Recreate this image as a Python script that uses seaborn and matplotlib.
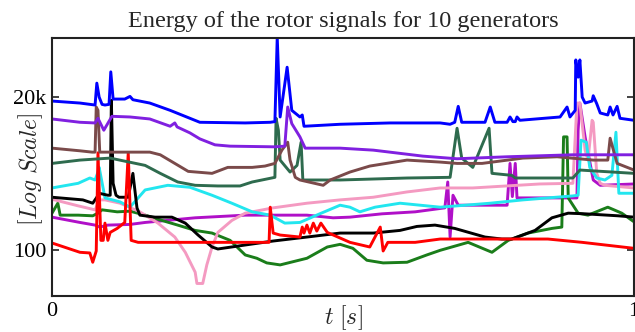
import numpy as np
import pandas as pd
import matplotlib
matplotlib.use('Agg')
import matplotlib.pyplot as plt
from matplotlib.ticker import NullLocator
import seaborn as sns

# readings: time [s] and log10 of the rotor signal energy
blue_t = [0, .048, .074, .077, .081, .086, .091, .098, .101, .105, .125, .134, .139, .168, .203, .237,
          .254, .332, .375, .383, .387, .392, .404, .412, .426, .430, .433, .495, .581, .667, .684, .692,
          .698, .704, .744, .753, .761, .782, .787, .792, .796, .799, .804, .873, .885, .890, .899, .900,
          .904, .907, .911, .916, .928, .930, .936, .942, .955, .959, .964, .971, .976, 1.0]
blue_log = [4.24, 4.21, 4.18, 4.51, 4.30, 4.19, 4.18, 4.19, 4.68, 4.27, 4.27, 4.31, 4.26, 4.21, 4.10, 3.98,
            3.92, 3.91, 3.92, 3.93, 5.20, 4.00, 4.75, 4.10, 4.00, 4.03, 3.86, 3.89, 3.91, 3.91, 3.89, 3.92,
            4.16, 3.92, 3.92, 4.15, 3.92, 3.92, 4.00, 3.93, 3.93, 4.00, 3.95, 4.00, 4.15, 4.00, 4.10, 4.86,
            4.60, 4.86, 4.30, 4.21, 4.24, 4.32, 4.20, 4.06, 4.03, 4.15, 4.03, 4.16, 3.98, 3.95]

violet_t = [0, .048, .074, .079, .089, .103, .134, .168, .203, .211, .215, .237, .254, .280, .306, .383,
            .400, .405, .412, .426, .435, .495, .552, .637, .696, .782, .895, 1.0]
violet_log = [3.97, 3.92, 3.91, 3.98, 3.80, 4.01, 4.00, 3.97, 3.86, 3.91, 3.85, 3.76, 3.67, 3.58, 3.56, 3.55,
              3.56, 4.15, 3.90, 3.70, 3.53, 3.53, 3.50, 3.41, 3.37, 3.40, 3.43, 3.43]

brown_t = [0, .048, .069, .074, .076, .079, .082, .168, .186, .211, .234, .275, .302, .344, .366, .383,
           .395, .405, .409, .418, .426, .466, .478, .512, .546, .610, .667, .696, .739, .809, .868, .930,
           .955, .959, .971, 1.0]
brown_log = [3.53, 3.49, 3.47, 3.47, 4.15, 4.10, 3.47, 3.47, 3.43, 3.30, 3.18, 3.15, 3.24, 3.24, 3.26, 3.30,
             3.50, 3.62, 3.35, 3.09, 3.05, 2.97, 3.05, 3.17, 3.26, 3.35, 3.32, 3.30, 3.30, 3.38, 3.40, 3.35,
             3.35, 3.68, 3.30, 3.20]

teal_t = [0, .048, .082, .100, .160, .186, .216, .246, .285, .323, .344, .383, .385, .389, .392, .409,
          .421, .428, .431, .495, .610, .684, .696, .704, .723, .751, .756, .790, .796, .895, .907, 1.0]
teal_log = [3.30, 3.35, 3.37, 3.38, 3.27, 3.15, 3.02, 2.97, 2.96, 2.96, 3.02, 3.09, 3.98, 3.80, 3.35, 3.17,
            3.27, 3.62, 3.05, 3.05, 3.08, 3.09, 3.83, 3.38, 3.24, 3.83, 3.15, 3.12, 3.08, 3.08, 3.20, 3.15]

red_t = [0, .048, .065, .070, .076, .079, .084, .088, .091, .096, .100, .112, .125, .131, .136, .148,
         .373, .375, .380, .392, .426, .430, .433, .438, .443, .449, .455, .462, .473, .512, .546, .564,
         .569, .577, .624, .667, .739, .852, .911, 1.0]
red_log = [2.10, 1.96, 1.95, 1.81, 1.98, 3.46, 2.14, 2.14, 2.40, 2.14, 2.26, 2.32, 2.41, 3.46, 2.14, 2.11,
           2.11, 2.64, 2.25, 2.22, 2.19, 2.34, 2.25, 2.37, 2.25, 2.40, 2.28, 2.40, 2.26, 2.11, 2.04, 2.34,
           1.98, 2.11, 2.11, 2.16, 2.16, 2.16, 2.11, 2.02]

black_t = [0, .053, .070, .077, .081, .096, .100, .102, .105, .110, .115, .131, .139, .146, .151, .177,
           .206, .229, .251, .275, .285, .332, .380, .438, .495, .552, .598, .627, .658, .692, .744, .773,
           .790, .830, .859, .887, .916, .973, 1.0]
black_log = [2.79, 2.75, 2.70, 2.79, 2.85, 2.82, 2.82, 4.25, 3.00, 2.82, 2.79, 2.79, 3.15, 2.63, 2.52, 2.49,
             2.49, 2.40, 2.22, 2.04, 2.01, 2.07, 2.13, 2.19, 2.25, 2.25, 2.29, 2.35, 2.37, 2.32, 2.19, 2.16,
             2.16, 2.29, 2.48, 2.55, 2.54, 2.51, 2.49]

cyan_t = [0, .045, .065, .074, .079, .081, .091, .117, .134, .148, .160, .199, .237, .275, .309, .344,
          .375, .400, .426, .460, .495, .512, .529, .555, .598, .667, .753, .809, .895, .904, .909, .918,
          .924, .936, .950, .962, .969, .974, 1.0]
cyan_log = [2.93, 3.00, 3.08, 3.05, 3.17, 3.24, 2.78, 2.72, 2.64, 2.78, 2.90, 2.97, 2.94, 2.82, 2.70, 2.57,
            2.52, 2.40, 2.41, 2.54, 2.67, 2.64, 2.57, 2.64, 2.70, 2.64, 2.70, 2.75, 2.81, 2.82, 3.65, 3.62,
            3.24, 3.08, 3.05, 3.12, 3.77, 2.85, 2.85]

pink_t = [0, .045, .074, .082, .091, .117, .151, .182, .211, .229, .246, .249, .259, .266, .275, .285,
          .309, .332, .380, .438, .495, .552, .610, .667, .723, .838, .895, .902, .907, .916, .921, .928,
          .930, .936, .942, .950, 1.0]
pink_log = [2.76, 2.66, 2.60, 2.75, 2.75, 2.70, 2.57, 2.40, 2.19, 1.96, 1.66, 1.49, 1.49, 1.77, 2.04, 2.26,
            2.44, 2.55, 2.63, 2.70, 2.75, 2.79, 2.87, 2.93, 2.93, 2.99, 3.00, 4.21, 4.21, 3.50, 3.35, 3.95,
            3.92, 3.15, 3.00, 2.97, 2.93]

green_t = [0, .010, .014, .045, .070, .079, .086, .112, .134, .160, .189, .216, .246, .275, .306, .332,
           .352, .369, .392, .438, .473, .495, .517, .541, .569, .610, .644, .667, .715, .756, .784, .818,
           .859, .876, .879, .885, .887, .904, .921, .955, .979, 1.0]
green_log = [2.55, 2.70, 2.52, 2.52, 2.51, 2.55, 2.60, 2.57, 2.58, 2.52, 2.44, 2.37, 2.29, 2.25, 2.14, 1.92,
             1.87, 1.80, 1.77, 1.87, 2.04, 2.08, 2.02, 1.84, 1.80, 1.81, 1.92, 1.99, 2.11, 1.96, 2.14, 2.25,
             2.32, 2.34, 3.70, 3.70, 2.78, 2.55, 2.52, 2.64, 2.55, 2.42]

magenta_t = [0, .048, .074, .082, .096, .134, .160, .246, .332, .438, .483, .512, .567, .624, .675, .680,
             .684, .689, .698, .782, .787, .791, .796, .799, .902, .904, .907, .916, .930, .942, 1.0]
magenta_log = [2.49, 2.41, 2.37, 2.34, 2.37, 2.38, 2.41, 2.48, 2.52, 2.52, 2.48, 2.49, 2.54, 2.57, 2.63, 3.02,
               2.19, 2.82, 2.67, 2.67, 3.30, 2.80, 3.30, 2.78, 2.78, 3.80, 4.21, 3.70, 3.05, 2.97, 2.99]

generators = ['G1', 'G2', 'G3', 'G4', 'G5', 'G6', 'G7', 'G8', 'G9', 'G10']
colors = ['#b010c8', '#1a7d1a', '#f49ac1', '#22e6ef', '#000000', '#ff0000', '#2e6b4e', '#7a4a4a',
          '#8020e0', '#0000ff']
readings = [(magenta_t, magenta_log), (green_t, green_log), (pink_t, pink_log), (cyan_t, cyan_log),
            (black_t, black_log), (red_t, red_log), (teal_t, teal_log), (brown_t, brown_log),
            (violet_t, violet_log), (blue_t, blue_log)]

frames = []
for name, (t, lg) in zip(generators, readings):
    frames.append(pd.DataFrame({'t': t, 'energy': 10 ** np.array(lg), 'gen': name}))
df = pd.concat(frames, ignore_index=True)

sns.set_style('ticks')
plt.rcParams['font.family'] = ['Liberation Serif', 'DejaVu Serif']
plt.rcParams['mathtext.fontset'] = 'cm'

fig = plt.figure(figsize=(6.35, 3.32), dpi=100)
ax = fig.add_axes([0.0819, 0.1084, 0.9165, 0.7771])

sns.lineplot(data=df, x='t', y='energy', hue='gen', palette=colors, estimator=None, sort=False,
             linewidth=2.1, legend=False, ax=ax)

ax.set_yscale('log')
ax.set_ylim(20, 155000)
ax.set_xlim(0, 1)
ax.set_yticks([100, 20000])
ax.set_yticklabels(['100', '20k'])
ax.yaxis.set_minor_locator(NullLocator())
ax.set_xticks([0, 1])
ax.set_xticklabels(['0', '1'])
ax.tick_params(top=True, right=True, direction='in', length=5, width=1.2, labelsize=16, pad=4,
               colors='#222222', labelcolor='black')
for sp in ax.spines.values():
    sp.set_visible(True)
    sp.set_linewidth(1.5)
    sp.set_color('#222222')

ax.set_title('Energy of the rotor signals for 10 generators', fontsize=17.5, pad=8)
ax.set_xlabel(r'$t\ [s]$', fontsize=17)
ax.set_ylabel(r'$[Log\ Scale]$', fontsize=17)
ax.xaxis.set_label_coords(0.5, -0.028)
ax.yaxis.set_label_coords(-0.012, 0.49)

fig.savefig('out.png', dpi=100)
